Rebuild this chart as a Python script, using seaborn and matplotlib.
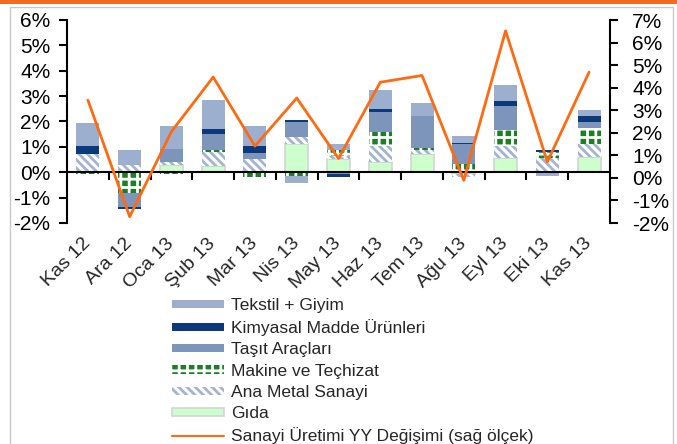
import numpy as np
import seaborn as sns
import matplotlib
matplotlib.use("Agg")
from matplotlib import pyplot as plt
from matplotlib.patches import Patch, Rectangle
from matplotlib.lines import Line2D
from matplotlib.ticker import FuncFormatter

# data (percentage points)
months = ["Kas 12", "Ara 12", "Oca 13", "Şub 13", "Mar 13", "Nis 13", "May 13",
          "Haz 13", "Tem 13", "Ağu 13", "Eyl 13", "Eki 13", "Kas 13"]
gida = [0.00, 0.00, 0.30, 0.25, 0.05, 1.13, 0.54, 0.41, 0.71, -0.08, 0.56, 0.05, 0.60]
ana_metal = [0.73, 0.28, 0.12, 0.55, 0.46, 0.26, 0.09, 0.63, 0.16, -0.10, 0.48, 0.50, 0.53]
makine = [-0.07, -0.82, -0.07, 0.07, -0.18, -0.15, 0.24, 0.55, 0.09, 0.32, 0.61, 0.25, 0.61]
tasit = [0.00, -0.55, 0.50, 0.63, 0.23, 0.58, -0.05, 0.78, 1.26, 0.78, 0.95, 0.00, 0.24]
kimyasal = [0.30, -0.08, 0.00, 0.22, 0.30, 0.08, -0.13, 0.14, 0.00, 0.07, 0.21, 0.09, 0.22]
tekstil = [0.93, 0.59, 0.90, 1.11, 0.78, -0.27, 0.26, 0.72, 0.52, 0.25, 0.64, -0.15, 0.24]
sanayi = [3.45, -1.72, 2.05, 4.47, 1.41, 3.54, 0.86, 4.24, 4.54, -0.11, 6.52, 0.71, 4.69]

orange = "#FF6A10"

sns.set_style("white")
plt.rcParams["font.family"] = ["Liberation Sans", "DejaVu Sans"]
plt.rcParams["hatch.linewidth"] = 2.0

fig = plt.figure(figsize=(6.77, 4.44), dpi=100)
ax = fig.add_axes([67 / 677, 1 - 223 / 444, 543 / 677, 203 / 444])

# stacking order from the zero line outward
series = [
    ("Gıda", gida, dict(fc="#ccffcc", ec="#d4d4d4", lw=1.2, hatch=None)),
    ("Ana Metal Sanayi", ana_metal, dict(fc="white", ec="#a3b4d3", lw=0, hatch="\\\\\\\\")),
    ("Makine ve Teçhizat", makine, dict(fc="#1f7d25", ec="white", lw=0, hatch="++")),
    ("Taşıt Araçları", tasit, dict(fc="#7e95bb", ec="#7e95bb", lw=0, hatch=None)),
    ("Kimyasal Madde Ürünleri", kimyasal, dict(fc="#0b397c", ec="#0b397c", lw=0, hatch=None)),
    ("Tekstil + Giyim", tekstil, dict(fc="#9dafcf", ec="#9dafcf", lw=0, hatch=None)),
]

pos = np.zeros(len(months))
neg = np.zeros(len(months))
handles = {}
for name, vals, st in series:
    v = np.array(vals)
    bottom = np.where(v >= 0, pos, neg)
    sns.barplot(x=months, y=v, bottom=bottom, ax=ax, color=st["fc"], saturation=1,
                width=0.55, errorbar=None, edgecolor=st["ec"], linewidth=st["lw"],
                hatch=st["hatch"])
    handles[name] = Patch(facecolor=st["fc"], edgecolor=st["ec"], hatch=st["hatch"],
                          linewidth=st["lw"])
    pos = pos + np.where(v > 0, v, 0)
    neg = neg + np.where(v < 0, v, 0)

ax.set_xlim(-0.5, len(months) - 0.5)
ax.set_ylim(-2, 6)
ax.set_yticks(range(-2, 7))
ax.yaxis.set_major_formatter(FuncFormatter(lambda y, _: f"{y:.0f}%"))
ax.set_xlabel("")
ax.set_ylabel("")
ax.set_xticks(range(len(months)))
ax.set_xticklabels(months, rotation=45, ha="right", va="center", rotation_mode="anchor", fontsize=14)
ax.tick_params(axis="x", length=0, pad=13)
ax.tick_params(axis="y", left=True, direction="out", length=6, width=1.5, labelsize=15,
               pad=6, colors="black")
for s in ["top", "bottom", "right"]:
    ax.spines[s].set_visible(False)
ax.spines["left"].set_color("black")
ax.spines["left"].set_linewidth(1.5)

# zero line with ticks between the categories
sec = ax.secondary_xaxis(0.25)
sec.set_xticks(np.arange(0.5, len(months) - 1, 1))
sec.tick_params(axis="x", bottom=True, length=6, width=1.5, direction="out",
                labelbottom=False, colors="black")
sec.spines["bottom"].set_color("black")
sec.spines["bottom"].set_linewidth(1.5)
sec.set_zorder(5)

# right axis: industrial production yoy
ax2 = ax.twinx()
sns.lineplot(x=np.arange(len(months)), y=sanayi, ax=ax2, color=orange, linewidth=2)
ax2.set_ylim(-2, 7)
ax2.set_yticks(range(-2, 8))
ax2.yaxis.set_major_formatter(FuncFormatter(lambda y, _: f"{y:.0f}%"))
ax2.tick_params(axis="y", right=True, direction="out", length=6, width=1.5, labelsize=15,
                pad=10, colors="black")
for s in ["top", "bottom", "left"]:
    ax2.spines[s].set_visible(False)
ax2.spines["right"].set_color("black")
ax2.spines["right"].set_linewidth(1.5)
ax2.set_ylabel("")

order = ["Tekstil + Giyim", "Kimyasal Madde Ürünleri", "Taşıt Araçları",
         "Makine ve Teçhizat", "Ana Metal Sanayi", "Gıda"]
leg_handles = [handles[n] for n in order] + [Line2D([], [], color=orange, lw=1.5)]
leg_labels = order + ["Sanayi Üretimi YY Değişimi (sağ ölçek)"]
fig.legend(leg_handles, leg_labels, loc="upper left",
           bbox_to_anchor=(172 / 677, 1 - 298 / 444), frameon=False, fontsize=12.5,
           handlelength=3.0, handleheight=0.35, handletextpad=0.4, labelspacing=0.36,
           borderpad=0, borderaxespad=0)

# outer frame and orange top band
fig.patches.append(Rectangle((10 / 677, -0.02), 663 / 677, 1.02 - 7 / 444,
                             transform=fig.transFigure, fill=False, ec="#c8c8c8", lw=1))
fig.patches.append(Rectangle((0, 1 - 4 / 444), 1, 4 / 444, transform=fig.transFigure,
                             color="#F26B21", lw=0))

fig.savefig("out.png", dpi=100)
